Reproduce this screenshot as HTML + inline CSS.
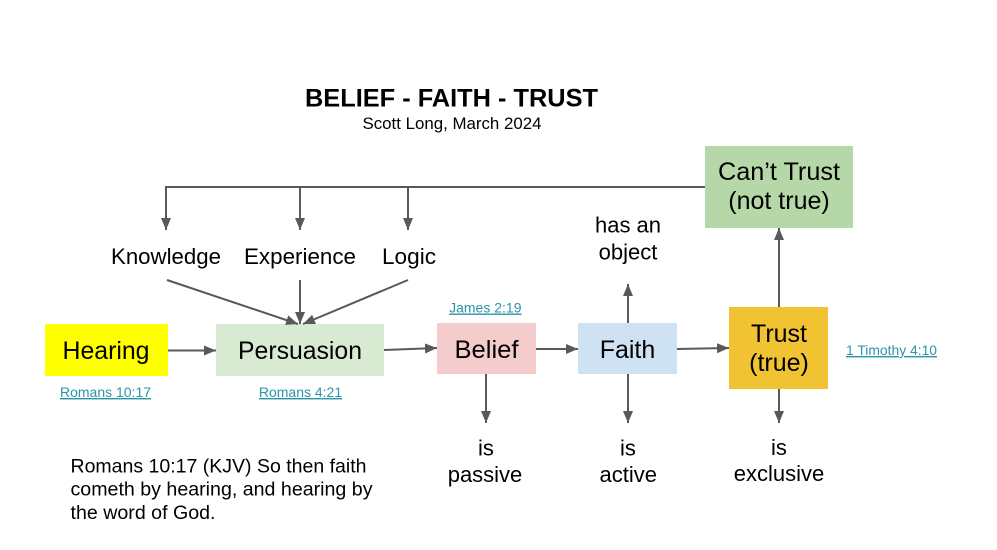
<!DOCTYPE html>
<html>
<head>
<meta charset="utf-8">
<style>
  html, body { margin: 0; padding: 0; background: #ffffff; }
  svg { display: block; }
  text { font-family: "Liberation Sans", Arial, sans-serif; fill: #000; }
  .lbl { font-size: 22px; }
  .box { font-size: 25px; }
  .lnk { font-size: 14px; fill: #2b95a6; text-decoration: underline; }
</style>
</head>
<body>
<svg width="997" height="550" viewBox="0 0 997 550" xmlns="http://www.w3.org/2000/svg">
  <defs>
    <marker id="ah" markerUnits="userSpaceOnUse" markerWidth="12" markerHeight="10" viewBox="0 0 12 10" refX="12" refY="5" orient="auto">
      <path d="M0,0 L12,5 L0,10 z" fill="#595959"/>
    </marker>
  </defs>
  <rect x="0" y="0" width="997" height="550" fill="#ffffff"/>

  <!-- Title -->
  <text x="451.5" y="106.5" text-anchor="middle" font-size="25" font-weight="bold" textLength="293" lengthAdjust="spacingAndGlyphs">BELIEF - FAITH - TRUST</text>
  <text x="452" y="129" text-anchor="middle" font-size="17" textLength="179" lengthAdjust="spacingAndGlyphs">Scott Long, March 2024</text>

  <!-- Boxes -->
  <rect x="45" y="324" width="123" height="52" fill="#ffff00"/>
  <rect x="216" y="324" width="168" height="52" fill="#d9ead3"/>
  <rect x="437" y="323" width="99" height="51" fill="#f4cccc"/>
  <rect x="578" y="323" width="99" height="51" fill="#cfe2f3"/>
  <rect x="729" y="307" width="99" height="82" fill="#f1c232"/>
  <rect x="705" y="146" width="148" height="82" fill="#b6d7a8"/>

  <!-- Connectors -->
  <g stroke="#595959" stroke-width="2" fill="none">
    <polyline points="705,187 166,187 166,230" marker-end="url(#ah)"/>
    <line x1="300" y1="187" x2="300" y2="230" marker-end="url(#ah)"/>
    <line x1="408" y1="187" x2="408" y2="230" marker-end="url(#ah)"/>

    <line x1="167" y1="280" x2="298" y2="324" marker-end="url(#ah)"/>
    <line x1="300" y1="280" x2="300" y2="324" marker-end="url(#ah)"/>
    <line x1="408" y1="280" x2="303" y2="324" marker-end="url(#ah)"/>

    <line x1="168" y1="350.5" x2="216" y2="350.5" marker-end="url(#ah)"/>
    <line x1="384" y1="350" x2="437" y2="348" marker-end="url(#ah)"/>
    <line x1="536" y1="349" x2="578" y2="349" marker-end="url(#ah)"/>
    <line x1="677" y1="349" x2="729" y2="348" marker-end="url(#ah)"/>

    <line x1="779" y1="307" x2="779" y2="228" marker-end="url(#ah)"/>
    <line x1="628" y1="323" x2="628" y2="284" marker-end="url(#ah)"/>

    <line x1="486" y1="374" x2="486" y2="423" marker-end="url(#ah)"/>
    <line x1="628" y1="374" x2="628" y2="423" marker-end="url(#ah)"/>
    <line x1="779" y1="389" x2="779" y2="423" marker-end="url(#ah)"/>
  </g>

  <!-- Source labels -->
  <text class="lbl" x="166" y="264" text-anchor="middle" textLength="110" lengthAdjust="spacingAndGlyphs">Knowledge</text>
  <text class="lbl" x="300" y="264" text-anchor="middle" textLength="112" lengthAdjust="spacingAndGlyphs">Experience</text>
  <text class="lbl" x="409" y="264" text-anchor="middle" textLength="54" lengthAdjust="spacingAndGlyphs">Logic</text>

  <!-- Box texts -->
  <text class="box" x="106" y="359" text-anchor="middle" textLength="87" lengthAdjust="spacingAndGlyphs">Hearing</text>
  <text class="box" x="300" y="359" text-anchor="middle" textLength="124" lengthAdjust="spacingAndGlyphs">Persuasion</text>
  <text class="box" x="486.5" y="358" text-anchor="middle" textLength="64" lengthAdjust="spacingAndGlyphs">Belief</text>
  <text class="box" x="627.5" y="358" text-anchor="middle">Faith</text>
  <text class="box" x="779" y="342" text-anchor="middle" textLength="56" lengthAdjust="spacingAndGlyphs">Trust</text>
  <text class="box" x="779" y="371" text-anchor="middle">(true)</text>
  <text class="box" x="779" y="180" text-anchor="middle" textLength="122" lengthAdjust="spacingAndGlyphs">Can’t Trust</text>
  <text class="box" x="779" y="209" text-anchor="middle">(not true)</text>

  <!-- Property labels -->
  <text class="lbl" x="628" y="232.5" text-anchor="middle">has an</text>
  <text class="lbl" x="628" y="259.5" text-anchor="middle">object</text>

  <text class="lbl" x="486" y="455.5" text-anchor="middle">is</text>
  <text class="lbl" x="485" y="482" text-anchor="middle">passive</text>
  <text class="lbl" x="628" y="455.5" text-anchor="middle">is</text>
  <text class="lbl" x="628.3" y="482" text-anchor="middle">active</text>
  <text class="lbl" x="779" y="455" text-anchor="middle">is</text>
  <text class="lbl" x="779" y="481" text-anchor="middle">exclusive</text>

  <!-- Links -->
  <text class="lnk" x="105.5" y="397" text-anchor="middle">Romans 10:17</text>
  <text class="lnk" x="300.5" y="397" text-anchor="middle">Romans 4:21</text>
  <text class="lnk" x="485.3" y="312.5" text-anchor="middle">James 2:19</text>
  <text class="lnk" x="846" y="355" textLength="91" lengthAdjust="spacingAndGlyphs">1 Timothy 4:10</text>

  <!-- Bottom verse -->
  <text x="70.5" y="472.3" font-size="19.5" textLength="296" lengthAdjust="spacingAndGlyphs">Romans 10:17 (KJV) So then faith</text>
  <text x="70.5" y="495.7" font-size="19.5" textLength="302" lengthAdjust="spacingAndGlyphs">cometh by hearing, and hearing by</text>
  <text x="70.5" y="519" font-size="19.5" textLength="145" lengthAdjust="spacingAndGlyphs">the word of God.</text>
</svg>
</body>
</html>
